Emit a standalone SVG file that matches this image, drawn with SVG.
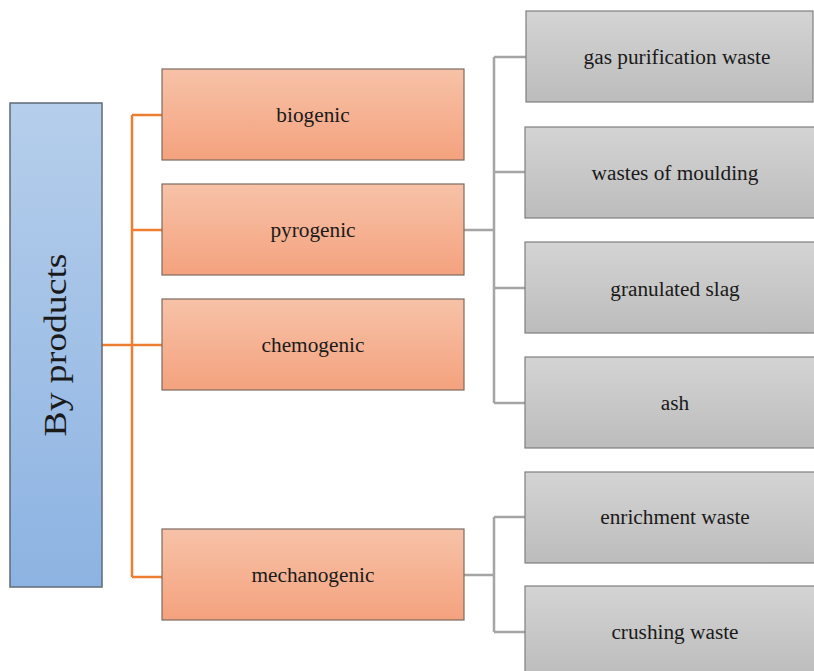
<svg xmlns="http://www.w3.org/2000/svg" width="814" height="671" viewBox="0 0 814 671">
<defs>
<linearGradient id="gBlue" x1="0" y1="0" x2="0" y2="1"><stop offset="0" stop-color="#b5ceeb"/><stop offset="1" stop-color="#8db3e2"/></linearGradient>
<linearGradient id="gOr" x1="0" y1="0" x2="0" y2="1"><stop offset="0" stop-color="#f7c2a8"/><stop offset="1" stop-color="#f4a27e"/></linearGradient>
<linearGradient id="gGr" x1="0" y1="0" x2="0" y2="1"><stop offset="0" stop-color="#d4d4d4"/><stop offset="1" stop-color="#bcbcbc"/></linearGradient>
</defs>
<style>
.t{font-family:"Liberation Serif","Times New Roman",serif;font-size:21.3px;fill:#1a1a1a;text-anchor:middle}
.blue{fill:url(#gBlue);stroke:#5f6b78;stroke-width:1.5}
.or{fill:url(#gOr);stroke:#7d6a60;stroke-width:1.2}
.gr{fill:url(#gGr);stroke:#7f7f7f;stroke-width:1.2}
.oc{fill:none;stroke:#ed7d31;stroke-width:2.5}
.gc{fill:none;stroke:#a5a5a5;stroke-width:2.5}
</style>
<g id="connectors">
<path class="oc" d="M102 345H132M132 115V577M132 115H162M132 230H162M132 345H162M132 577H162"/>
<path class="gc" d="M464 230H494M494 57V403M494 57H526M494 172H525M494 288H525M494 403H525"/>
<path class="gc" d="M464 575H494M494 517V632M494 517H525M494 632H525"/>
</g>
<g id="byproducts">
<rect class="blue" x="10" y="103" width="92" height="484"/>
<text class="t" transform="translate(66 345) rotate(-90)" style="font-size:31px" textLength="183" lengthAdjust="spacingAndGlyphs">By products</text>
</g>
<g id="biogenic"><rect class="or" x="162" y="69" width="302" height="91"/><text class="t" x="313" y="122">biogenic</text></g>
<g id="pyrogenic"><rect class="or" x="162" y="184" width="302" height="91"/><text class="t" x="313" y="237">pyrogenic</text></g>
<g id="chemogenic"><rect class="or" x="162" y="299" width="302" height="91"/><text class="t" x="313" y="352">chemogenic</text></g>
<g id="mechanogenic"><rect class="or" x="162" y="529" width="302" height="91"/><text class="t" x="313" y="582">mechanogenic</text></g>
<g id="gas"><rect class="gr" x="526" y="11" width="287" height="91"/><text class="t" x="677" y="64">gas purification waste</text></g>
<g id="moulding"><rect class="gr" x="525" y="127" width="300" height="91"/><text class="t" x="675" y="180">wastes of moulding</text></g>
<g id="slag"><rect class="gr" x="525" y="242" width="300" height="91"/><text class="t" x="675" y="296">granulated slag</text></g>
<g id="ash"><rect class="gr" x="525" y="357" width="300" height="91"/><text class="t" x="675" y="410">ash</text></g>
<g id="enrichment"><rect class="gr" x="525" y="472" width="300" height="91"/><text class="t" x="675" y="524">enrichment waste</text></g>
<g id="crushing"><rect class="gr" x="525" y="586" width="300" height="91"/><text class="t" x="675" y="639">crushing waste</text></g>
</svg>
